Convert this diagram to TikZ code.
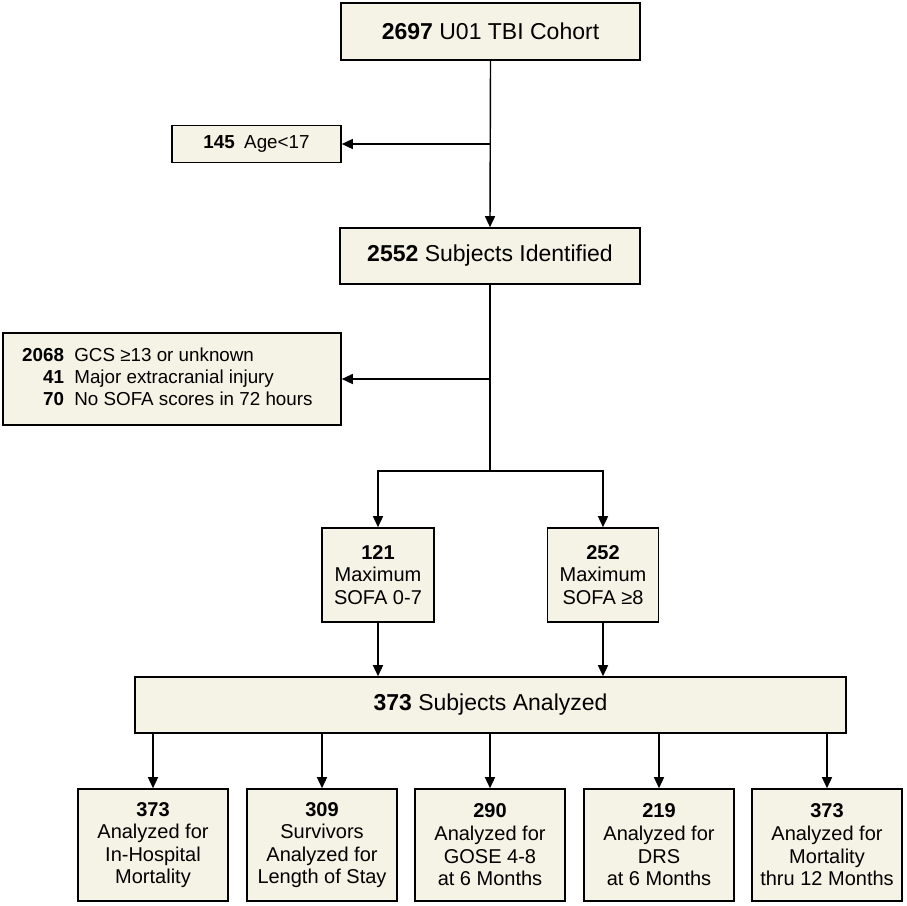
\documentclass[tikz,border=0pt]{standalone}
\usepackage{fontspec}
\setmainfont{Liberation Sans}
\usetikzlibrary{arrows.meta}
\definecolor{boxfill}{RGB}{245,243,230}
\tikzset{
  box/.style={draw=black, line width=1.6pt, fill=boxfill, inner sep=0pt, align=center},
  conn/.style={line width=1.4pt, -{Triangle[length=11pt,width=10pt]}},
  line/.style={line width=1.4pt},
  big/.style={font=\fontsize{23}{27}\selectfont},
  small/.style={font=\fontsize{18.8}{22}\selectfont},
  mid/.style={font=\fontsize{20}{22.6}\selectfont}
}
\begin{document}
\begin{tikzpicture}[x=1pt,y=-1pt]
\useasboundingbox[fill=white] (0,0) rectangle (906,906);
\node[box,big,minimum width=299pt,minimum height=57pt] (top) at (490.5,31.5) {\textbf{2697} U01 TBI Cohort};
\node[box,small,minimum width=169pt,minimum height=37pt] (age) at (256.5,144) {\textbf{145}\hspace{0.5em}Age<17};
\node[box,big,minimum width=300pt,minimum height=56pt] (ident) at (490,256) {\textbf{2552} Subjects Identified};
\node[box,small,minimum width=338pt,minimum height=92pt] (excl) at (172,379) {};
\node[small,anchor=west,inner sep=0pt] (excltext) at (22,379) {\begin{tabular}{@{}r@{\hspace{0.55em}}l@{}}
\textbf{2068} & GCS ≥13 or unknown\\
\textbf{41} & Major extracranial injury\\
\textbf{70} & No SOFA scores in 72 hours
\end{tabular}};
\node[box,mid,minimum width=112pt,minimum height=94pt] (s1) at (378,575) {\textbf{121}\\Maximum\\SOFA 0-7};
\node[box,mid,minimum width=111pt,minimum height=94pt] (s2) at (603,575) {\textbf{252}\\Maximum\\SOFA ≥8};
\node[box,big,minimum width=711pt,minimum height=56pt] (an) at (490.5,705) {\textbf{373} Subjects Analyzed};
\node[box,mid,minimum width=150pt,minimum height=112pt] (b1) at (153,845) {\textbf{373}\\Analyzed for\\In-Hospital\\Mortality};
\node[box,mid,minimum width=150pt,minimum height=112pt] (b2) at (322,845) {\textbf{309}\\Survivors\\Analyzed for\\Length of Stay};
\node[box,mid,minimum width=150pt,minimum height=112pt] (b3) at (490,845) {\textbf{290}\\Analyzed for\\GOSE 4-8\\at 6 Months};
\node[box,mid,minimum width=150pt,minimum height=112pt] (b4) at (659,845) {\textbf{219}\\Analyzed for\\DRS\\at 6 Months};
\node[box,mid,minimum width=150pt,minimum height=112pt] (b5) at (827,845) {\textbf{373}\\Analyzed for\\Mortality\\thru 12 Months};
\coordinate (j1) at (490,144);
\coordinate (j2) at (490,379);
\coordinate (split) at (490,471);
\coordinate (sl) at (378,471);
\coordinate (sr) at (603,471);
\draw[conn] (top.south) -- (ident.north);
\draw[conn] (j1) -- (age.east);
\draw[conn] (j2) -- (excl.east);
\draw[line] (ident.south) -- (split);
\draw[conn] (split) -- (sl) -- (s1.north);
\draw[conn] (split) -- (sr) -- (s2.north);
\draw[conn] (s1.south) -- (s1.south |- an.north);
\draw[conn] (s2.south) -- (s2.south |- an.north);
\foreach \b in {b1,b2,b3,b4,b5}{
  \draw[conn] (\b.north |- an.south) -- (\b.north);
}
\end{tikzpicture}
\end{document}
